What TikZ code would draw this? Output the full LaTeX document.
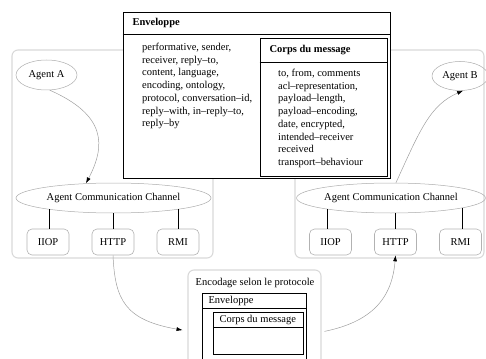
\documentclass[tikz,border=0pt]{standalone}
\usepackage{fontspec}
\setmainfont{Liberation Serif}
\usetikzlibrary{shapes.geometric,arrows.meta}

\begin{document}
\begin{tikzpicture}[x=1pt, y=-1pt,
    every node/.style={font=\fontsize{10.5}{12.7}\selectfont},
    platform/.style={draw=gray!30, line width=1.1pt, rounded corners=6pt},
    agent/.style={ellipse, draw=gray!65, line width=0.5pt, inner sep=0pt},
    proto/.style={draw=gray!60, line width=0.6pt, rounded corners=5pt,
                  minimum width=42, minimum height=26, inner sep=0pt},
    msgbox/.style={draw, line width=0.9pt, fill=white},
    flow/.style={-{Latex[length=6pt, width=4pt, black]}, gray!75, line width=0.5pt}]
    \useasboundingbox (0,0) rectangle (486,358);
    \clip (0,0) rectangle (486,358);

    % platforms
    \node[platform, minimum width=201, minimum height=208] (platA) at (112.5,154) {};
    \node[platform, minimum width=189, minimum height=208] (platB) at (389.5,154) {};
    \node[platform, minimum width=133, minimum height=100] (encbox) at (254.5,320) {};

    % agents
    \node[agent, minimum width=61, minimum height=30] (agentA) at (46.5,75) {Agent A};
    \node[agent, minimum width=56, minimum height=29] (agentB) at (460,76) {Agent B};

    % communication channels
    \node[agent, minimum width=195, minimum height=30] (accA) at (113.5,198) {Agent Communication Channel};
    \node[agent, minimum width=188, minimum height=30] (accB) at (391,198) {Agent Communication Channel};

    % transport protocols
    \node[proto] (iiopA) at (48,242) {IIOP};
    \node[proto] (httpA) at (113,242) {HTTP};
    \node[proto] (rmiA) at (178,242) {RMI};
    \node[proto] (iiopB) at (330.5,242) {IIOP};
    \node[proto] (httpB) at (395.5,242) {HTTP};
    \node[proto] (rmiB) at (460.5,242) {RMI};

    \draw[] (accA.190) -- (accA.190 |- iiopA.north);
    \draw[] (accA.south -| httpA.north) -- (httpA.north);
    \draw[] (accA.350) -- (accA.350 |- rmiA.north);
    \draw[] (accB.190) -- (accB.190 |- iiopB.north);
    \draw[] (accB.south -| httpB.north) -- (httpB.north);
    \draw[] (accB.352) -- (accB.352 |- rmiB.north);

    % message structure
    \node[msgbox, minimum width=267, minimum height=166] (env) at (256.5,95) {};
    \draw[line width=0.9pt] (env.west |- 0,34) -- (env.east |- 0,34);
    \node[anchor=west, font=\fontsize{10.5}{12.7}\selectfont\bfseries] (envtitle) at (129,23) {Enveloppe};
    \node[anchor=north west, inner sep=0pt, align=left] (envtext) at (142,43)
      {performative, sender,\\receiver, reply--to,\\content, language,\\encoding, ontology,\\
       protocol, conversation--id,\\reply--with, in--reply--to,\\reply--by};

    \node[msgbox, minimum width=127, minimum height=138] (body) at (323.5,107) {};
    \draw[line width=0.9pt] (body.west |- 0,62) -- (body.east |- 0,62);
    \node[anchor=west, font=\fontsize{10.5}{12.7}\selectfont\bfseries] (bodytitle) at (266,50) {Corps du message};
    \node[anchor=north west, inner sep=0pt, align=left] (bodytext) at (278,69)
      {to, from, comments\\acl--representation,\\payload--length,\\payload--encoding,\\
       date, encrypted,\\intended--receiver\\received\\transport--behaviour};

    % encoded message
    \node[] (enctitle) at (255,283) {Encodage selon le protocole};
    \draw[line width=0.8pt] (202,293) rectangle (306,370);
    \draw[line width=0.8pt] (202,308) -- (306,308);
    \node[anchor=west] (encenv) at (205,301) {Enveloppe};
    \draw[line width=0.8pt] (213,312) rectangle (303,354);
    \draw[line width=0.8pt] (213,327) -- (303,327);
    \node[anchor=west] (encbody) at (216,320) {Corps du message};

    % message path
    \draw[flow] (agentA.282) .. controls (106,115) and (106,145) .. (accA.152);
    \draw[flow, shorten >=5pt] (httpA.south) .. controls (115,300) and (125,320) .. ([yshift=-11pt]encbox.west);
    \draw[flow, shorten <=3pt] ([yshift=-12pt]encbox.east) .. controls (370,322) and (392,300) .. (httpB.south);
    \draw[flow] (accB.72) .. controls (420,130) and (430,105) .. (agentB.282);
\end{tikzpicture}
\end{document}
